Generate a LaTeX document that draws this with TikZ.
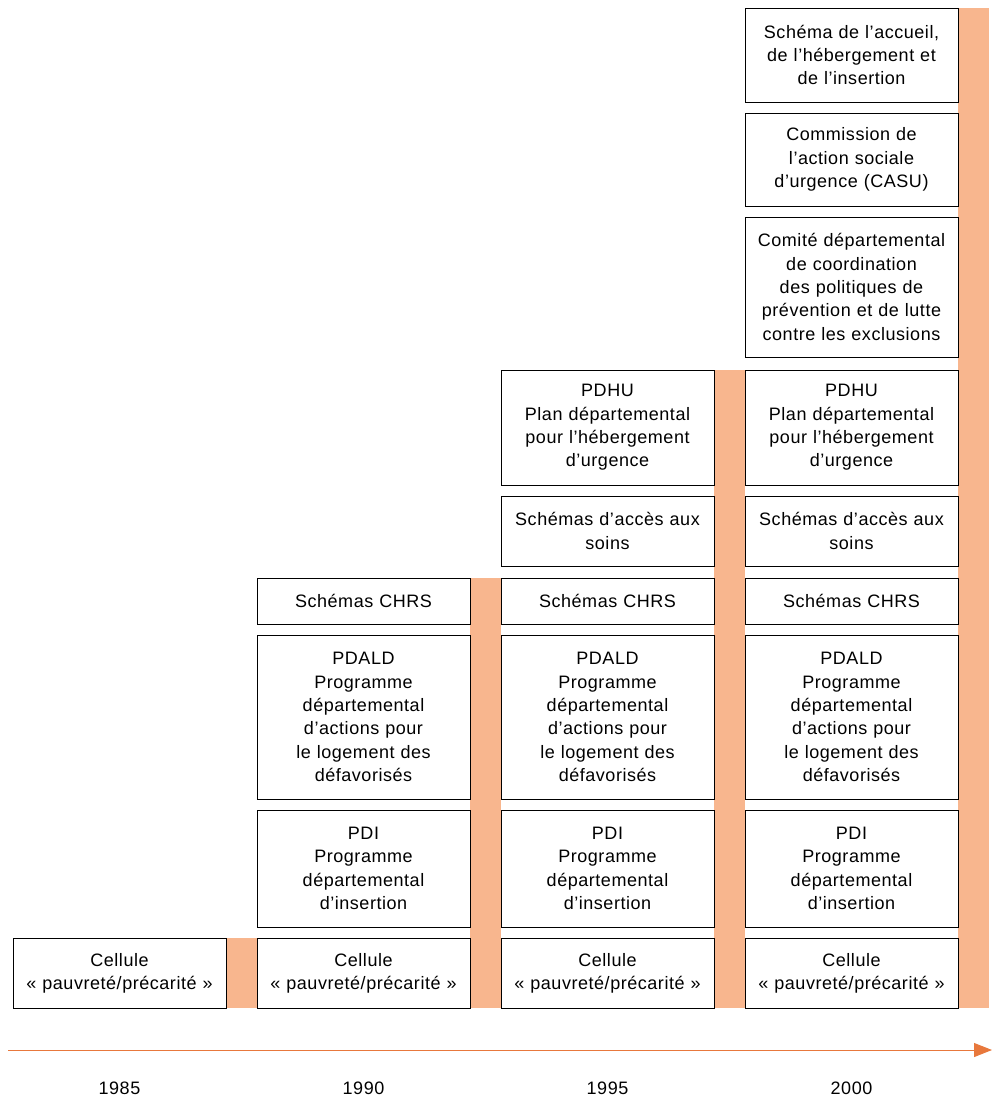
\documentclass[tikz,border=0pt]{standalone}
\usepackage{fontspec}
\setmainfont{Liberation Sans}[LetterSpace=3]
\usetikzlibrary{arrows.meta}
\definecolor{barfill}{RGB}{248,182,142}
\definecolor{axiscol}{RGB}{232,120,60}
\begin{document}
\begin{tikzpicture}[x=1pt,y=-1pt,
  box/.style={draw=black,line width=0.9pt,fill=white,minimum width=213pt,inner sep=0pt,
    align=center,text width=210pt,font=\fontsize{18}{23.3}\selectfont},
  bar/.style={fill=barfill,draw=none},
  year/.style={font=\fontsize{18}{20}\selectfont,inner sep=0pt}]
\useasboundingbox (0,0) rectangle (993,1111);
% orange bars
\fill[bar] (226,938) rectangle (257,1008);
\fill[bar] (470,578) rectangle (501,1008);
\fill[bar] (714,370) rectangle (745,1008);
\fill[bar] (958,8) rectangle (989,1008);
% column 1
\node[box,minimum height=70pt] (c1) at (119.5,973) {Cellule\\« pauvreté/précarité »};
% column 2
\node[box,minimum height=70pt] (c2) at (363.5,973) {Cellule\\« pauvreté/précarité »};
\node[box,minimum height=117pt] (pdi2) at (363.5,868.5) {PDI\\Programme\\départemental\\d’insertion};
\node[box,minimum height=164pt] (pdald2) at (363.5,717) {PDALD\\Programme\\départemental\\d’actions pour\\le logement des\\défavorisés};
\node[box,minimum height=46pt] (chrs2) at (363.5,601) {Schémas CHRS};
% column 3
\node[box,minimum height=70pt] (c3) at (607.5,973) {Cellule\\« pauvreté/précarité »};
\node[box,minimum height=117pt] (pdi3) at (607.5,868.5) {PDI\\Programme\\départemental\\d’insertion};
\node[box,minimum height=164pt] (pdald3) at (607.5,717) {PDALD\\Programme\\départemental\\d’actions pour\\le logement des\\défavorisés};
\node[box,minimum height=46pt] (chrs3) at (607.5,601) {Schémas CHRS};
\node[box,minimum height=70pt] (acc3) at (607.5,531) {Schémas d’accès aux\\soins};
\node[box,minimum height=115pt] (pdhu3) at (607.5,427.5) {PDHU\\Plan départemental\\pour l’hébergement\\d’urgence};
% column 4
\node[box,minimum height=70pt] (c4) at (851.5,973) {Cellule\\« pauvreté/précarité »};
\node[box,minimum height=117pt] (pdi4) at (851.5,868.5) {PDI\\Programme\\départemental\\d’insertion};
\node[box,minimum height=164pt] (pdald4) at (851.5,717) {PDALD\\Programme\\départemental\\d’actions pour\\le logement des\\défavorisés};
\node[box,minimum height=46pt] (chrs4) at (851.5,601) {Schémas CHRS};
\node[box,minimum height=70pt] (acc4) at (851.5,531) {Schémas d’accès aux\\soins};
\node[box,minimum height=115pt] (pdhu4) at (851.5,427.5) {PDHU\\Plan départemental\\pour l’hébergement\\d’urgence};
\node[box,minimum height=140pt] (comite4) at (851.5,287) {Comité départemental\\de coordination\\des politiques de\\prévention et de lutte\\contre les exclusions};
\node[box,minimum height=93pt] (casu4) at (851.5,159.5) {Commission de\\l’action sociale\\d’urgence (CASU)};
\node[box,minimum height=94pt] (ahi4) at (851.5,55) {Schéma de l’accueil,\\de l’hébergement et\\de l’insertion};
% time axis
\coordinate (axstart) at (8,1050);
\coordinate (axend) at (992,1050);
\draw[axiscol,line width=1pt,-{Triangle[length=18pt,width=14pt]}] (axstart) -- (axend);
\node[year] (y1985) at (119.5,1088) {1985};
\node[year] (y1990) at (363.5,1088) {1990};
\node[year] (y1995) at (607.5,1088) {1995};
\node[year] (y2000) at (851.5,1088) {2000};
\end{tikzpicture}
\end{document}
